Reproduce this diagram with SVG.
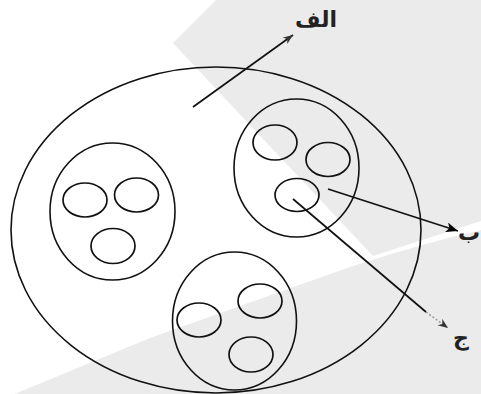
<svg xmlns="http://www.w3.org/2000/svg" width="481" height="394" viewBox="0 0 481 394">
<style>
.bg{fill:#ebebeb;stroke:none}
.sh{fill:none;stroke:#111;stroke-width:1.6}
.in{fill:none;stroke:#111;stroke-width:1.7}
.ln{fill:none;stroke:#111;stroke-width:1.7}
.lbl{font-family:"DejaVu Sans",sans-serif;font-weight:bold;font-size:22px;fill:#222}
</style>
<defs>
<marker id="solid" markerUnits="userSpaceOnUse" markerWidth="14" markerHeight="12" refX="12" refY="5" orient="auto">
<path d="M0,0 L12,5 L0,10 L3,5 Z" fill="#000"/>
</marker>
<marker id="small" markerUnits="userSpaceOnUse" markerWidth="12" markerHeight="10" refX="10" refY="4" orient="auto">
<path d="M0,0 L10,4 L0,8 L3,4 Z" fill="#333"/>
</marker>
</defs>
<rect width="481" height="394" fill="#ffffff"/>
<g id="background">
<polygon class="bg" points="216,0 481,0 481,221 373,256 173,43"/>
<path class="bg" d="M0,400 L150,338 L350,267 Q420,244 481,230 L481,394 L0,394 Z"/>
</g>
<g id="outer"><ellipse class="sh" cx="216" cy="230" rx="205" ry="163"/></g>
<g id="group-left">
<ellipse class="sh" cx="112.5" cy="211.5" rx="62.5" ry="68.5"/>
<ellipse class="in" cx="85" cy="200" rx="22" ry="17"/>
<ellipse class="in" cx="136.5" cy="195" rx="22" ry="17"/>
<ellipse class="in" cx="113" cy="246" rx="22" ry="17.5"/>
</g>
<g id="group-right">
<ellipse class="sh" cx="296.5" cy="168" rx="62.5" ry="69"/>
<ellipse class="in" cx="275" cy="142.5" rx="22" ry="17.5"/>
<ellipse class="in" cx="328" cy="159.5" rx="22" ry="17"/>
<ellipse class="in" cx="297" cy="195" rx="22" ry="16.5"/>
</g>
<g id="group-bottom">
<ellipse class="sh" cx="234.5" cy="321" rx="62" ry="69"/>
<ellipse class="in" cx="199" cy="320" rx="22" ry="17"/>
<ellipse class="in" cx="260" cy="301" rx="22" ry="17"/>
<ellipse class="in" cx="251" cy="354.5" rx="22" ry="17.5"/>
</g>
<g id="connectors">
<path class="ln" d="M193,107 L293,35" marker-end="url(#small)"/>
<path class="ln" d="M328,189 L458,231" marker-end="url(#solid)"/>
<path class="ln" d="M293,199 L426,312"/>
<path d="M426,312 L448,328" fill="none" stroke="#999" stroke-width="1.5" stroke-dasharray="2,2" marker-end="url(#small)"/>
</g>
<g id="labels">
<text class="lbl" x="316" y="27" text-anchor="middle">الف</text>
<text class="lbl" x="480" y="240" text-anchor="end">ب</text>
<text class="lbl" x="461" y="345" text-anchor="middle">ج</text>
</g>
</svg>
